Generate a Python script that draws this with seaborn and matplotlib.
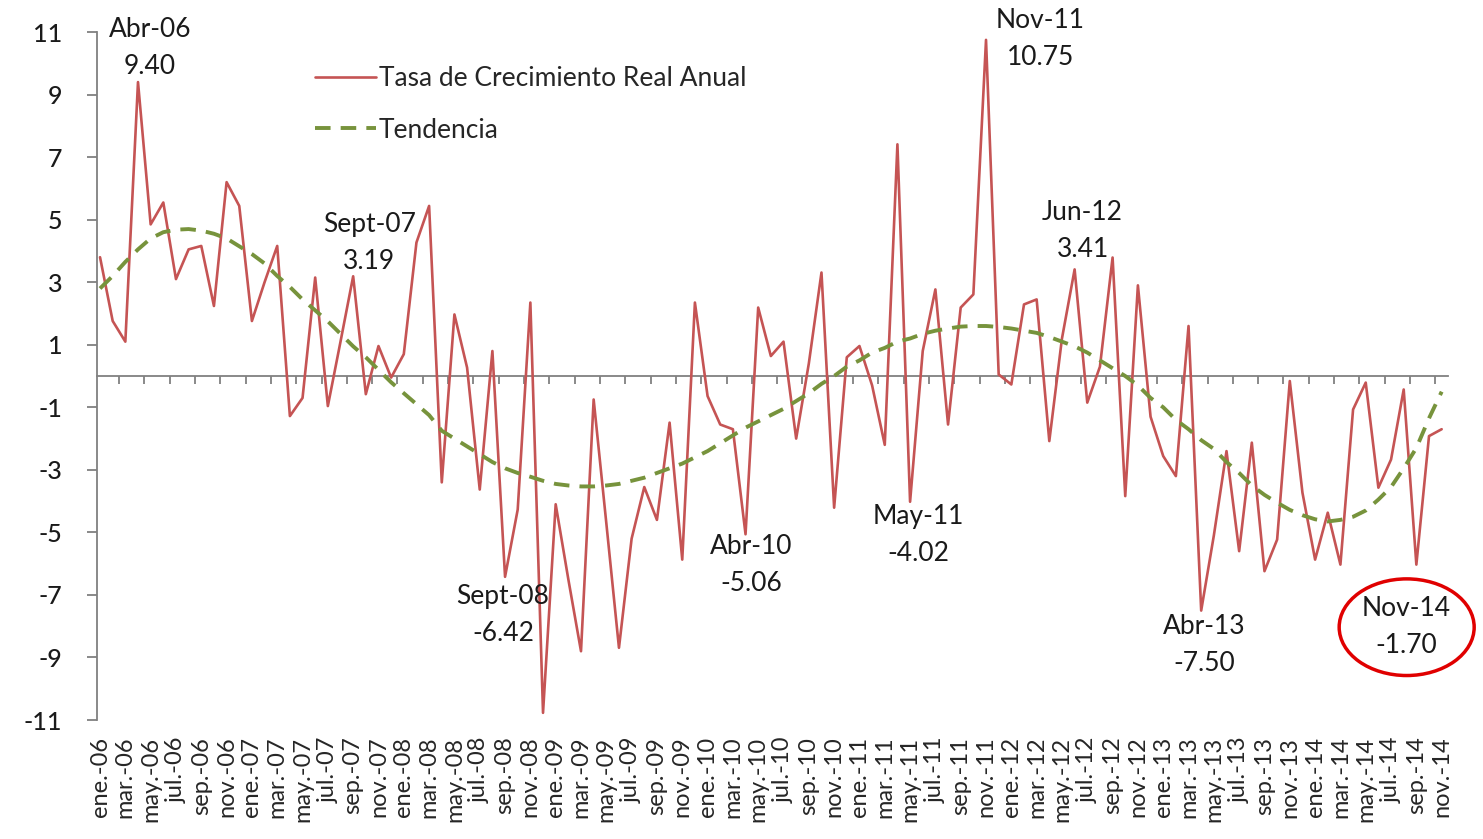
import numpy as np
import pandas as pd
import seaborn as sns
import matplotlib.pyplot as plt

# tasa de crecimiento real anual, mensual ene-06 .. nov-14
tasa = [3.8, 1.76, 1.1, 9.40, 4.85, 5.55, 3.1, 4.05, 4.16, 2.24, 6.2, 5.44,          # 2006
        1.76, 3.0, 4.16, -1.28, -0.7, 3.15, -0.96, 1.1, 3.19, -0.58, 0.96, -0.05,     # 2007
        0.7, 4.27, 5.44, -3.4, 1.97, 0.27, -3.63, 0.8, -6.42, -4.27, 2.35, -10.77,    # 2008
        -4.1, -6.5, -8.8, -0.75, -4.7, -8.69, -5.2, -3.55, -4.6, -1.49, -5.87, 2.35,  # 2009
        -0.64, -1.55, -1.7, -5.06, 2.19, 0.64, 1.1, -2.0, 0.4, 3.31, -4.21, 0.6,      # 2010
        0.96, -0.3, -2.2, 7.41, -4.02, 0.8, 2.77, -1.55, 2.19, 2.61, 10.75, 0.05,     # 2011
        -0.27, 2.29, 2.45, -2.08, 1.2, 3.41, -0.85, 0.3, 3.79, -3.84, 2.9, -1.3,      # 2012
        -2.56, -3.2, 1.6, -7.50, -5.1, -2.4, -5.6, -2.13, -6.24, -5.23, -0.16, -3.73,  # 2013
        -5.87, -4.37, -6.03, -1.07, -0.21, -3.57, -2.67, -0.43, -6.03, -1.92, -1.70]  # 2014

tendencia = [2.8, 3.2, 3.65, 4.05, 4.4, 4.6, 4.68, 4.7, 4.65, 4.55, 4.4, 4.15,
             3.9, 3.6, 3.2, 2.85, 2.45, 2.1, 1.75, 1.35, 0.95, 0.6, 0.2, -0.2,
             -0.55, -0.9, -1.25, -1.75, -2.0, -2.25, -2.5, -2.75, -2.95, -3.1, -3.22, -3.35,
             -3.45, -3.5, -3.53, -3.53, -3.5, -3.45, -3.35, -3.25, -3.1, -2.95, -2.8, -2.6,
             -2.4, -2.15, -1.9, -1.65, -1.45, -1.25, -1.05, -0.8, -0.55, -0.25, 0.0, 0.3,
             0.5, 0.75, 0.9, 1.1, 1.2, 1.35, 1.45, 1.52, 1.58, 1.6, 1.6, 1.57,
             1.52, 1.45, 1.38, 1.25, 1.1, 0.95, 0.75, 0.5, 0.25, 0.0, -0.3, -0.7,
             -1.0, -1.4, -1.7, -2.05, -2.33, -2.75, -3.1, -3.5, -3.8, -4.05, -4.28, -4.45,
             -4.58, -4.65, -4.6, -4.5, -4.3, -3.95, -3.55, -2.95, -2.3, -1.35, -0.5]

meses = ['ene.', 'feb.', 'mar.', 'abr.', 'may.', 'jun.',
         'jul.', 'ago.', 'sep.', 'oct.', 'nov.', 'dic.']
anios = ['06', '07', '08', '09', '10', '11', '12', '13', '14']
fechas = [m + '-' + a for a in anios for m in meses][:len(tasa)]

# etiquetas de puntos destacados
etiquetas = ['Abr-06', 'Sept-07', 'Sept-08', 'Abr-10', 'May-11',
             'Nov-11', 'Jun-12', 'Abr-13', 'Nov-14']
idx_etiquetas = [3, 20, 32, 51, 64, 70, 77, 87, 106]
desplaz = [(12, 34), (16, 33), (-2, -38), (6, -31), (8, -33),
           (54, 1), (8, 38), (3, -34), (-35, -198)]

df = pd.DataFrame({'mes': np.arange(len(tasa)), 'tasa': tasa, 'tendencia': tendencia})

sns.set_style('white')
plt.rcParams['font.family'] = ['Lato', 'DejaVu Sans']
plt.rcParams['axes.unicode_minus'] = False

fig = plt.figure(figsize=(14.83, 8.39), dpi=100)
ax = fig.add_axes([0.0654, 0.1418, 0.911, 0.820])

sns.lineplot(data=df, x='mes', y='tasa', ax=ax, color='#C55454', lw=1.9,
             label='Tasa de Crecimiento Real Anual')
sns.lineplot(data=df, x='mes', y='tendencia', ax=ax, color='#77933C', lw=2.8,
             dashes=False, label='Tendencia')
ax.lines[1].set_dashes((4, 2.6))

ax.set_xlim(-0.24, 106.5)
ax.set_ylim(-11, 11)
ax.set_yticks(np.arange(-11, 12, 2))
ax.set_xticks(df['mes'][::2])
ax.set_xticklabels(fechas[::2], rotation=90, fontsize=17, color='#262626')
ax.tick_params(axis='x', length=0, pad=12)
ax.tick_params(axis='y', direction='out', length=7, width=1.3, color='#808080',
               labelsize=18, labelcolor='#1a1a1a', pad=18, left=True)
for t in ax.get_yticklabels():
    t.set_fontweight('medium')
ax.set_xlabel('')
ax.set_ylabel('')
for s in ['top', 'right', 'bottom']:
    ax.spines[s].set_visible(False)
ax.spines['left'].set_color('#808080')
ax.spines['left'].set_linewidth(1.3)

# eje de categorias en y = 0
sec = ax.secondary_xaxis(0.5)
sec.set_xticks(np.arange(1.5, 107, 2))
sec.tick_params(direction='in', length=6, width=1.3, color='#808080',
                labeltop=False, labelbottom=False)
for s in ['top', 'bottom']:
    sec.spines[s].set_color('#808080')
    sec.spines[s].set_linewidth(1.3)

for lab, i, (dx, dy) in zip(etiquetas, idx_etiquetas, desplaz):
    kw = {}
    if lab == 'Nov-14':
        kw['bbox'] = dict(boxstyle='ellipse,pad=0.12', fc='none', ec='#E00000', lw=2.5)
    ax.annotate(f'{lab}\n{tasa[i]:.2f}', xy=(i, tasa[i]), xytext=(dx, dy),
                textcoords='offset pixels', ha='center', va='center',
                fontsize=19, color='#1a1a1a', linespacing=1.6, **kw)

ax.legend(loc='upper left', bbox_to_anchor=(0.144, 0.985), frameon=False,
          fontsize=19, handlelength=2.3, handletextpad=0.1, labelspacing=1.0)

fig.savefig('out.png', dpi=100)
